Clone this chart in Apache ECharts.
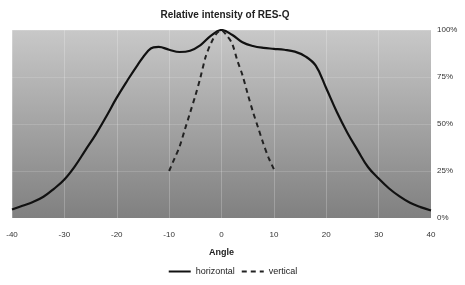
<!DOCTYPE html>
<html><head><meta charset="utf-8">
<script src="https://cdn.jsdelivr.net/npm/echarts@6/dist/echarts.min.js"></script>
<style>html,body{margin:0;padding:0;background:#fff}#c{width:465px;height:285px}</style>
</head><body><div id="c"></div>
<script>
var chartTitle = 'Relative intensity of RES-Q';
var xTicks = [-40, -30, -20, -10, 0, 10, 20, 30, 40];
var yTicks = ['0%', '25%', '50%', '75%', '100%'];
var horizAngles = [-40,-38,-36,-34,-32,-30,-28,-26,-24,-22,-20,-18,-16,-14,-13,-12,-10,-8,-6,-4,-2,0,2,4,6,8,10,12,14,16,18,20,22,24,26,28,30,32,34,36,38,40];
var horizValues = [4.5,6.5,8.5,11.3,15.5,20.5,27.5,36,44.5,54,64,73,81.5,89,90.8,91,89.5,88.3,89,92,97,100,97.5,93.5,91.5,90.5,90,89.5,88.5,86,81,69,56.5,45.5,36,27,21,15.7,11.5,8.1,5.8,4];
var vertAngles = [-10,-9,-8,-7,-6,-5,-4,-3,-2,-1,0,1,2,3,4,5,6,7,8,9,10];
var vertValues = [25,31.5,38,47,56,65,75,86,93,98,100,97,93,84,76,66,56.5,48,39.5,32,26];

function pairs(a, b) { return a.map(function (x, i) { return [x, b[i]]; }); }

var chart = echarts.init(document.getElementById('c'), null, {renderer: 'canvas'});
chart.setOption({
  animation: false,
  backgroundColor: '#ffffff',
  textStyle: {fontFamily: 'Liberation Sans, Arial, sans-serif'},
  title: {
    text: chartTitle, left: 220, top: 5, textAlign: 'center',
    textStyle: {fontSize: 10, fontWeight: 'bold', color: '#222'}
  },
  grid: {
    left: 12, right: 34, top: 30, bottom: 67, show: true, borderWidth: 0,
    backgroundColor: {type: 'linear', x: 0, y: 0, x2: 0, y2: 1,
      colorStops: [{offset: 0, color: '#c8c8c8'}, {offset: 1, color: '#808080'}]}
  },
  legend: {
    bottom: 4, left: 'center', itemWidth: 22, itemHeight: 8, itemGap: 6,
    textStyle: {fontSize: 9, color: '#222'},
    itemStyle: {opacity: 0},
    data: ['horizontal', 'vertical']
  },
  xAxis: {
    type: 'value', min: -40, max: 40, interval: 10,
    name: 'Angle', nameLocation: 'middle', nameGap: 30,
    nameTextStyle: {fontSize: 9, fontWeight: 'bold', color: '#222'},
    axisLine: {show: false}, axisTick: {show: false},
    axisLabel: {fontSize: 8, color: '#333', margin: 13,
      formatter: function (v) { return xTicks.indexOf(v) >= 0 ? String(v) : ''; }},
    splitLine: {show: true, lineStyle: {color: 'rgba(255,255,255,0.22)', width: 1}}
  },
  yAxis: {
    type: 'value', position: 'right', min: 0, max: 100, interval: 25,
    axisLine: {show: false}, axisTick: {show: false},
    axisLabel: {fontSize: 8, color: '#333', margin: 6,
      formatter: function (v) { return yTicks[v / 25]; }},
    splitLine: {show: true, lineStyle: {color: 'rgba(255,255,255,0.15)', width: 1}}
  },
  series: [
    {name: 'horizontal', type: 'line', data: pairs(horizAngles, horizValues),
      smooth: 0.4, symbol: 'none', lineStyle: {color: '#111', width: 2.2}, itemStyle: {color: '#111'}},
    {name: 'vertical', type: 'line', data: pairs(vertAngles, vertValues),
      smooth: 0.3, symbol: 'none', lineStyle: {color: '#222', width: 2, type: [5, 4]}, itemStyle: {color: '#222'}}
  ]
});
</script></body></html>
